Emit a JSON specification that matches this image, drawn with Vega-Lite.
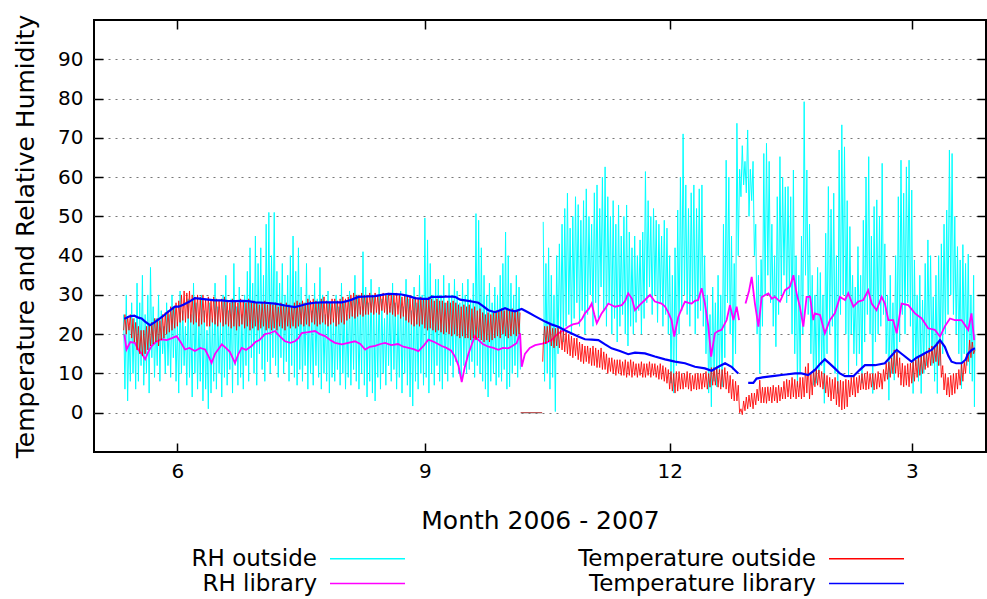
{
  "$schema": "https://vega.github.io/schema/vega-lite/v6.json",
  "width": 892,
  "height": 432,
  "autosize": {"type": "none"},
  "padding": {"left": 94, "top": 20, "right": 1, "bottom": 147},
  "background": "#ffffff",
  "config": {
    "view": {"stroke": "#000000", "strokeWidth": 2},
    "font": "DejaVu Sans",
    "axis": {"domain": false, "tickColor": "#000000", "tickWidth": 1.5, "labelColor": "#000000", "titleColor": "#000000", "titleFontWeight": "normal"}
  },
  "layer": [
    {
      "data": {"values": [
{"d":131,"v":25},{"d":131.5,"v":6},{"d":132,"v":30},{"d":132.5,"v":3},{"d":133,"v":22},{"d":133.5,"v":8},{"d":134,"v":28},{"d":134.5,"v":10},{"d":135,"v":24},{"d":135.5,"v":6},{"d":136,"v":33},{"d":136.5,"v":8},{"d":137,"v":28},{"d":137.5,"v":12},{"d":138,"v":35},{"d":138.5,"v":7},{"d":139,"v":25},{"d":139.5,"v":10},{"d":140,"v":30},{"d":140.5,"v":5},
{"d":141,"v":37},{"d":141.5,"v":14},{"d":142,"v":27},{"d":142.5,"v":9},{"d":143,"v":24},{"d":143.5,"v":12},{"d":144,"v":30},{"d":144.5,"v":8},{"d":145,"v":26},{"d":145.5,"v":15},{"d":146,"v":22},{"d":146.5,"v":10},{"d":147,"v":28},{"d":147.5,"v":12},{"d":148,"v":25},{"d":148.5,"v":9},{"d":149,"v":30},{"d":149.5,"v":14},{"d":150,"v":27},{"d":150.5,"v":8},
{"d":151,"v":23},{"d":151.5,"v":5},{"d":152,"v":31},{"d":152.5,"v":10},{"d":153,"v":26},{"d":153.5,"v":12},{"d":154,"v":22},{"d":154.5,"v":7},{"d":155,"v":29},{"d":155.5,"v":9},{"d":156,"v":25},{"d":156.5,"v":4},{"d":157,"v":33},{"d":157.5,"v":10},{"d":158,"v":28},{"d":158.5,"v":6},{"d":159,"v":24},{"d":159.5,"v":8},{"d":160,"v":30},{"d":160.5,"v":3},
{"d":161,"v":26},{"d":161.5,"v":6},{"d":162,"v":21},{"d":162.5,"v":1},{"d":163,"v":28},{"d":163.5,"v":5},{"d":164,"v":24},{"d":164.5,"v":8},{"d":165,"v":33},{"d":165.5,"v":6},{"d":166,"v":27},{"d":166.5,"v":10},{"d":167,"v":23},{"d":167.5,"v":4},{"d":168,"v":30},{"d":168.5,"v":9},{"d":169,"v":35},{"d":169.5,"v":7},{"d":170,"v":26},{"d":170.5,"v":11},
{"d":171,"v":29},{"d":171.5,"v":5},{"d":172,"v":38},{"d":172.5,"v":12},{"d":173,"v":27},{"d":173.5,"v":7},{"d":174,"v":32},{"d":174.5,"v":9},{"d":175,"v":25},{"d":175.5,"v":6},{"d":176,"v":30},{"d":176.5,"v":12},{"d":177,"v":36},{"d":177.5,"v":8},{"d":178,"v":42},{"d":178.5,"v":14},{"d":179,"v":33},{"d":179.5,"v":10},{"d":180,"v":45},{"d":180.5,"v":7},
{"d":181,"v":38},{"d":181.5,"v":15},{"d":182,"v":42},{"d":182.5,"v":11},{"d":183,"v":35},{"d":183.5,"v":8},{"d":184,"v":48},{"d":184.5,"v":13},{"d":185,"v":51},{"d":185.5,"v":10},{"d":186,"v":40},{"d":186.5,"v":14},{"d":187,"v":51},{"d":187.5,"v":12},{"d":188,"v":36},{"d":188.5,"v":9},{"d":189,"v":33},{"d":189.5,"v":14},{"d":190,"v":38},{"d":190.5,"v":10},
{"d":191,"v":30},{"d":191.5,"v":13},{"d":192,"v":35},{"d":192.5,"v":8},{"d":193,"v":40},{"d":193.5,"v":12},{"d":194,"v":45},{"d":194.5,"v":9},{"d":195,"v":36},{"d":195.5,"v":7},{"d":196,"v":42},{"d":196.5,"v":11},{"d":197,"v":32},{"d":197.5,"v":8},{"d":198,"v":28},{"d":198.5,"v":12},{"d":199,"v":38},{"d":199.5,"v":6},{"d":200,"v":30},{"d":200.5,"v":10},
{"d":201,"v":26},{"d":201.5,"v":7},{"d":202,"v":33},{"d":202.5,"v":12},{"d":203,"v":29},{"d":203.5,"v":9},{"d":204,"v":37},{"d":204.5,"v":6},{"d":205,"v":30},{"d":205.5,"v":10},{"d":206,"v":25},{"d":206.5,"v":8},{"d":207,"v":31},{"d":207.5,"v":5},{"d":208,"v":28},{"d":208.5,"v":9},{"d":209,"v":24},{"d":209.5,"v":8},{"d":210,"v":30},{"d":210.5,"v":11},
{"d":211,"v":27},{"d":211.5,"v":7},{"d":212,"v":33},{"d":212.5,"v":10},{"d":213,"v":28},{"d":213.5,"v":6},{"d":214,"v":25},{"d":214.5,"v":9},{"d":215,"v":31},{"d":215.5,"v":7},{"d":216,"v":29},{"d":216.5,"v":11},{"d":217,"v":35},{"d":217.5,"v":8},{"d":218,"v":30},{"d":218.5,"v":6},{"d":219,"v":27},{"d":219.5,"v":10},{"d":220,"v":41},{"d":220.5,"v":7},
{"d":221,"v":32},{"d":221.5,"v":4},{"d":222,"v":28},{"d":222.5,"v":8},{"d":223,"v":34},{"d":223.5,"v":5},{"d":224,"v":30},{"d":224.5,"v":3},{"d":225,"v":26},{"d":225.5,"v":9},{"d":226,"v":32},{"d":226.5,"v":6},{"d":227,"v":29},{"d":227.5,"v":10},{"d":228,"v":24},{"d":228.5,"v":7},{"d":229,"v":30},{"d":229.5,"v":12},{"d":230,"v":27},{"d":230.5,"v":8},
{"d":231,"v":33},{"d":231.5,"v":11},{"d":232,"v":28},{"d":232.5,"v":6},{"d":233,"v":25},{"d":233.5,"v":9},{"d":234,"v":31},{"d":234.5,"v":5},{"d":235,"v":27},{"d":235.5,"v":10},{"d":236,"v":34},{"d":236.5,"v":7},{"d":237,"v":29},{"d":237.5,"v":4},{"d":238,"v":26},{"d":238.5,"v":1.7},{"d":239,"v":32},{"d":239.5,"v":8},{"d":240,"v":28},{"d":240.5,"v":6},
{"d":241,"v":35},{"d":241.5,"v":10},{"d":242,"v":30},{"d":242.5,"v":7},{"d":243,"v":49.6},{"d":243.5,"v":9},{"d":244,"v":44},{"d":244.5,"v":5},{"d":245,"v":38},{"d":245.5,"v":10},{"d":246,"v":30},{"d":246.5,"v":7},{"d":247,"v":34},{"d":247.5,"v":12},{"d":248,"v":34},{"d":248.5,"v":8},{"d":249,"v":30},{"d":249.5,"v":6},{"d":250,"v":35},{"d":250.5,"v":10},
{"d":251,"v":28},{"d":251.5,"v":8},{"d":252,"v":33},{"d":252.5,"v":12},{"d":253,"v":30},{"d":253.5,"v":9},{"d":254,"v":34},{"d":254.5,"v":13},{"d":255,"v":31},{"d":255.5,"v":10},{"d":256,"v":28},{"d":256.5,"v":9},{"d":257,"v":33},{"d":257.5,"v":12},{"d":258,"v":30},{"d":258.5,"v":10},{"d":259,"v":34},{"d":259.5,"v":11},{"d":260,"v":29},{"d":260.5,"v":13},
{"d":261,"v":33},{"d":261.5,"v":9},{"d":262,"v":50.7},{"d":262.5,"v":12},{"d":263,"v":49},{"d":263.5,"v":10},{"d":264,"v":42},{"d":264.5,"v":8},{"d":265,"v":35},{"d":265.5,"v":6},{"d":266,"v":30},{"d":266.5,"v":4},{"d":267,"v":33},{"d":267.5,"v":8},{"d":268,"v":28},{"d":268.5,"v":10},{"d":269,"v":32},{"d":269.5,"v":7},{"d":270,"v":30},{"d":270.5,"v":9},
{"d":271,"v":35},{"d":271.5,"v":8},{"d":272,"v":38},{"d":272.5,"v":11},{"d":273,"v":46},{"d":273.5,"v":6},{"d":274,"v":40},{"d":274.5,"v":6.6},{"d":275,"v":33},{"d":275.5,"v":10},{"d":276,"v":30},{"d":276.5,"v":12},{"d":277,"v":35},{"d":277.5,"v":9},{"d":278,"v":32},{"d":278.5,"v":11},{"d":278.6,"v":null},{"d":278.7,"v":0},{"d":286.5,"v":0},{"d":286.7,"v":null},
{"d":287,"v":48.6},{"d":287.5,"v":8},{"d":288,"v":38},{"d":288.5,"v":10},{"d":289,"v":42},{"d":289.5,"v":6},{"d":290,"v":35},{"d":290.5,"v":9},
{"d":291,"v":30},{"d":291.5,"v":0.3},{"d":292,"v":40},{"d":292.5,"v":15},{"d":293,"v":43},{"d":293.5,"v":20},{"d":294,"v":48},{"d":294.5,"v":18},{"d":295,"v":52},{"d":295.5,"v":22},{"d":296,"v":55.9},{"d":296.5,"v":25},{"d":297,"v":47},{"d":297.5,"v":20},{"d":298,"v":50},{"d":298.5,"v":24},{"d":299,"v":55},{"d":299.5,"v":28},{"d":300,"v":53},{"d":300.5,"v":22},
{"d":301,"v":49},{"d":301.5,"v":26},{"d":302,"v":54},{"d":302.5,"v":20},{"d":303,"v":57},{"d":303.5,"v":25},{"d":304,"v":50},{"d":304.5,"v":30},{"d":305,"v":48},{"d":305.5,"v":22},{"d":306,"v":56},{"d":306.5,"v":28},{"d":307,"v":58},{"d":307.5,"v":24},{"d":308,"v":52},{"d":308.5,"v":32},{"d":309,"v":60},{"d":309.5,"v":26},{"d":310,"v":62.6},{"d":310.5,"v":22},
{"d":311,"v":55},{"d":311.5,"v":28},{"d":312,"v":50},{"d":312.5,"v":20},{"d":313,"v":54},{"d":313.5,"v":24},{"d":314,"v":48},{"d":314.5,"v":18},{"d":315,"v":52.9},{"d":315.5,"v":22},{"d":316,"v":45},{"d":316.5,"v":25},{"d":317,"v":50},{"d":317.5,"v":20},{"d":318,"v":52.9},{"d":318.5,"v":17},{"d":319,"v":46},{"d":319.5,"v":22},{"d":320,"v":42},{"d":320.5,"v":20},
{"d":321,"v":45},{"d":321.5,"v":23},{"d":322,"v":40},{"d":322.5,"v":26},{"d":323,"v":44},{"d":323.5,"v":20},{"d":324,"v":46},{"d":324.5,"v":24},{"d":325,"v":61.4},{"d":325.5,"v":28},{"d":326,"v":54},{"d":326.5,"v":32},{"d":327,"v":50},{"d":327.5,"v":25},{"d":328,"v":52},{"d":328.5,"v":30},{"d":329,"v":49},{"d":329.5,"v":23},{"d":330,"v":48},{"d":330.5,"v":28},
{"d":331,"v":45},{"d":331.5,"v":22},{"d":332,"v":49},{"d":332.5,"v":25},{"d":333,"v":47},{"d":333.5,"v":20},{"d":334,"v":40},{"d":334.5,"v":7.5},{"d":335,"v":35},{"d":335.5,"v":5},{"d":336,"v":42},{"d":336.5,"v":12},{"d":337,"v":51.6},{"d":337.5,"v":20},{"d":338,"v":60},{"d":338.5,"v":26},{"d":339,"v":71},{"d":339.5,"v":30},{"d":340,"v":58},{"d":340.5,"v":25},
{"d":341,"v":52},{"d":341.5,"v":22},{"d":342,"v":56},{"d":342.5,"v":28},{"d":343,"v":58},{"d":343.5,"v":20},{"d":344,"v":52},{"d":344.5,"v":24},{"d":345,"v":57},{"d":345.5,"v":26},{"d":346,"v":58},{"d":346.5,"v":22},{"d":347,"v":40},{"d":347.5,"v":15},{"d":348,"v":30},{"d":348.5,"v":5},{"d":349,"v":25},{"d":349.5,"v":1.5},{"d":350,"v":32},{"d":350.5,"v":8},
{"d":351,"v":28},{"d":351.5,"v":6.6},{"d":352,"v":35},{"d":352.5,"v":10},{"d":353,"v":30},{"d":353.5,"v":6.6},{"d":354,"v":48},{"d":354.5,"v":14},{"d":355,"v":64.3},{"d":355.5,"v":28},{"d":356,"v":60},{"d":356.5,"v":20},{"d":357,"v":45},{"d":357.5,"v":11},{"d":358,"v":38},{"d":358.5,"v":15},{"d":359,"v":73.7},{"d":359.5,"v":40},{"d":360,"v":62},{"d":360.5,"v":55},
{"d":361,"v":68},{"d":361.5,"v":58},{"d":362,"v":64},{"d":362.5,"v":56},{"d":363,"v":72},{"d":363.5,"v":50},{"d":364,"v":62},{"d":364.5,"v":54},{"d":365,"v":64},{"d":365.5,"v":40},{"d":366,"v":48},{"d":366.5,"v":20},{"d":367,"v":35},{"d":367.5,"v":10},{"d":368,"v":39},{"d":368.5,"v":22},{"d":369,"v":66},{"d":369.5,"v":30},{"d":370,"v":68.6},{"d":370.5,"v":35},
{"d":371,"v":64},{"d":371.5,"v":28},{"d":372,"v":48},{"d":372.5,"v":22},{"d":373,"v":40},{"d":373.5,"v":16.8},{"d":374,"v":55},{"d":374.5,"v":25},{"d":375,"v":65.2},{"d":375.5,"v":30},{"d":376,"v":60},{"d":376.5,"v":35},{"d":377,"v":57.5},{"d":377.5,"v":28},{"d":378,"v":57.6},{"d":378.5,"v":30},{"d":379,"v":55},{"d":379.5,"v":20},{"d":380,"v":61.8},{"d":380.5,"v":15},
{"d":381,"v":40},{"d":381.5,"v":6.6},{"d":382,"v":35},{"d":382.5,"v":10},{"d":383,"v":45},{"d":383.5,"v":20},{"d":384,"v":79.2},{"d":384.5,"v":35},{"d":385,"v":61.8},{"d":385.5,"v":25},{"d":386,"v":48},{"d":386.5,"v":15},{"d":387,"v":35},{"d":387.5,"v":7},{"d":388,"v":30},{"d":388.5,"v":7.5},{"d":389,"v":37},{"d":389.5,"v":10},{"d":390,"v":35.7},{"d":390.5,"v":12},
{"d":391,"v":30},{"d":391.5,"v":2.4},{"d":392,"v":45.7},{"d":392.5,"v":15},{"d":393,"v":57.6},{"d":393.5,"v":20},{"d":394,"v":51.8},{"d":394.5,"v":22},{"d":395,"v":55.9},{"d":395.5,"v":10},{"d":396,"v":40},{"d":396.5,"v":4.9},{"d":397,"v":66.9},{"d":397.5,"v":25},{"d":398,"v":73.3},{"d":398.5,"v":30},{"d":399,"v":67.7},{"d":399.5,"v":20},{"d":400,"v":54},{"d":400.5,"v":9.2},
{"d":401,"v":47.4},{"d":401.5,"v":20},{"d":402,"v":35},{"d":402.5,"v":15},{"d":403,"v":32},{"d":403.5,"v":12},{"d":404,"v":42.3},{"d":404.5,"v":15},{"d":405,"v":35},{"d":405.5,"v":7.5},{"d":406,"v":49},{"d":406.5,"v":18},{"d":407,"v":60},{"d":407.5,"v":25},{"d":408,"v":65.2},{"d":408.5,"v":20},{"d":409,"v":45},{"d":409.5,"v":4.9},{"d":410,"v":52.5},{"d":410.5,"v":18},
{"d":411,"v":54.2},{"d":411.5,"v":20},{"d":412,"v":50},{"d":412.5,"v":22},{"d":413,"v":63.5},{"d":413.5,"v":25},{"d":414,"v":43},{"d":414.5,"v":15},{"d":415,"v":30},{"d":415.5,"v":3.2},{"d":416,"v":35},{"d":416.5,"v":10},{"d":417,"v":28},{"d":417.5,"v":8.3},{"d":418,"v":40},{"d":418.5,"v":12},{"d":419,"v":55},{"d":419.5,"v":18},{"d":420,"v":64.3},{"d":420.5,"v":25},
{"d":421,"v":55.9},{"d":421.5,"v":20},{"d":422,"v":62.6},{"d":422.5,"v":28},{"d":423,"v":64.3},{"d":423.5,"v":22},{"d":424,"v":56.7},{"d":424.5,"v":4.9},{"d":425,"v":38.9},{"d":425.5,"v":12},{"d":426,"v":30},{"d":426.5,"v":8},{"d":427,"v":35},{"d":427.5,"v":4.9},{"d":428,"v":28.7},{"d":428.5,"v":10},{"d":429,"v":38},{"d":429.5,"v":12},{"d":430,"v":44},{"d":430.5,"v":15},
{"d":431,"v":40},{"d":431.5,"v":12},{"d":432,"v":29.5},{"d":432.5,"v":8},{"d":433,"v":35},{"d":433.5,"v":4.9},{"d":434,"v":40},{"d":434.5,"v":12},{"d":435,"v":43},{"d":435.5,"v":15},{"d":436,"v":48},{"d":436.5,"v":20},{"d":437,"v":51.6},{"d":437.5,"v":25},{"d":438,"v":66.9},{"d":438.5,"v":30},{"d":439,"v":66},{"d":439.5,"v":25},{"d":440,"v":50},{"d":440.5,"v":20},
{"d":441,"v":42.3},{"d":441.5,"v":15},{"d":442,"v":38.9},{"d":442.5,"v":6.1},{"d":443,"v":42.8},{"d":443.5,"v":15},{"d":444,"v":38},{"d":444.5,"v":12},{"d":445,"v":40.4},{"d":445.5,"v":10},{"d":446,"v":30},{"d":446.5,"v":8},{"d":447,"v":35},{"d":447.3,"v":1.5},{"d":447.5,"v":20}
      ]},
      "mark": {"type": "line", "strokeWidth": 1, "interpolate": "linear"},
      "encoding": {
        "x": {"field": "d", "type": "quantitative", "scale": {"domain": [120, 451.6], "nice": false, "zero": false},
          "axis": {"values": [151, 243, 334, 424], "labelExpr": "datum.value == 151 ? '6' : datum.value == 243 ? '9' : datum.value == 334 ? '12' : '3'", "title": "Month 2006 - 2007", "grid": false, "tickSize": -9, "labelFontSize": 20, "labelPadding": 18, "titleFontSize": 25, "titlePadding": 27, "orient": "bottom"}},
        "y": {"field": "v", "type": "quantitative", "scale": {"domain": [-10, 100], "nice": false, "zero": false},
          "axis": {"values": [0, 10, 20, 30, 40, 50, 60, 70, 80, 90], "title": "Temperature and Relative Humidity", "grid": true, "gridDash": [2, 5], "gridColor": "#777777", "gridWidth": 1.2, "tickSize": -9, "labelFontSize": 20, "labelPadding": 20, "titleFontSize": 25, "titlePadding": 19, "orient": "left"}},
        "color": {"datum": "RH outside", "type": "nominal",
          "scale": {"domain": ["RH outside", "RH library", "Temperature outside", "Temperature library"], "range": ["#00ffff", "#ff00ff", "#ff0000", "#0000ff"]},
          "legend": {"orient": "none", "legendX": 262, "legendY": 527, "columns": 2, "values": ["RH outside", "RH library", "Temperature outside", "Temperature library"], "symbolType": "M-5,0H5", "symbolSize": 225, "symbolStrokeWidth": 1.5, "labelAlign": "right", "labelOffset": -62, "labelLimit": 400, "labelFontSize": 23, "labelColor": "#000000", "columnPadding": 170, "rowPadding": 1, "title": null}}
      }
    },
    {
      "data": {"values": [
{"d":131.3,"v":19.9},{"d":132.1,"v":16.1},{"d":133.5,"v":18},{"d":135.2,"v":17.8},{"d":136.5,"v":16},{"d":137.8,"v":15},{"d":139,"v":13.6},{"d":140.2,"v":15.5},{"d":141.4,"v":17},{"d":143,"v":18},{"d":145.1,"v":18.7},{"d":147,"v":18.5},{"d":149,"v":19},{"d":150.7,"v":19.5},{"d":152.2,"v":18},{"d":153.8,"v":16.1},{"d":155.5,"v":16.5},{"d":157.5,"v":15.7},{"d":159.5,"v":16.5},{"d":161.3,"v":16.1},{"d":162.5,"v":14.5},{"d":163.7,"v":12.7},{"d":165,"v":15},{"d":167.5,"v":17.4},{"d":169,"v":16.5},{"d":170.5,"v":15.5},{"d":171.5,"v":14},{"d":172.4,"v":12.7},{"d":173.7,"v":15},{"d":174.9,"v":16.5},{"d":176.5,"v":16},{"d":178.6,"v":17},{"d":180,"v":18},{"d":181.5,"v":18.5},{"d":183.6,"v":20},{"d":185.5,"v":20.3},{"d":187.3,"v":20.8},{"d":189,"v":19.5},{"d":191,"v":18.2},{"d":193,"v":17.8},{"d":194.7,"v":18.2},{"d":196,"v":19},{"d":197.2,"v":20.3},{"d":199.5,"v":20.5},{"d":202.2,"v":20.8},{"d":204,"v":20},{"d":205.9,"v":19.5},{"d":207.8,"v":18.5},{"d":209.6,"v":17.8},{"d":212.1,"v":17.4},{"d":214.5,"v":17.8},{"d":217,"v":18.2},{"d":219,"v":17.5},{"d":220.8,"v":16.1},{"d":222.5,"v":16.8},{"d":224.5,"v":17},{"d":226.5,"v":17.5},{"d":228.2,"v":17.8},{"d":230.5,"v":17.2},{"d":233,"v":17.5},{"d":235,"v":16.8},{"d":236.9,"v":16.5},{"d":238.8,"v":16.2},{"d":240.6,"v":15.7},{"d":242.5,"v":17},{"d":244.3,"v":18.6},{"d":246.5,"v":18},{"d":249.3,"v":17},{"d":251,"v":16.5},{"d":252.8,"v":15.8},{"d":254.2,"v":14.3},{"d":255.5,"v":12},{"d":256.7,"v":7.8},{"d":257.8,"v":11.5},{"d":259.2,"v":15},{"d":260.5,"v":17.5},{"d":261.6,"v":19.5},{"d":263,"v":18.5},{"d":264.5,"v":17.5},{"d":266.6,"v":16.8},{"d":268.5,"v":16.5},{"d":270.3,"v":16},{"d":272,"v":16.5},{"d":274,"v":16.4},{"d":275.5,"v":17},{"d":277.1,"v":17.7},{"d":278.4,"v":20.2},{"d":279,"v":11.7},{"d":280.2,"v":15},{"d":282,"v":16.5},{"d":284,"v":17.2},{"d":286.7,"v":17.6},{"d":288.5,"v":18},{"d":290.1,"v":18.5},{"d":291.5,"v":19.5},{"d":292.6,"v":20.2},{"d":294.5,"v":21},{"d":296.3,"v":21.9},{"d":298,"v":22.5},{"d":300.1,"v":22.8},{"d":301.5,"v":24},{"d":302.5,"v":25.3},{"d":304,"v":26.5},{"d":305,"v":27.8},{"d":306,"v":25},{"d":306.9,"v":22.8},{"d":308.7,"v":25.3},{"d":310,"v":26.5},{"d":311.2,"v":27.8},{"d":313.7,"v":27},{"d":316.2,"v":27.4},{"d":317.5,"v":28.5},{"d":318.6,"v":30.4},{"d":320,"v":29},{"d":321.1,"v":26.1},{"d":323,"v":27.5},{"d":324.8,"v":28.7},{"d":326.7,"v":30},{"d":328.5,"v":28.3},{"d":331,"v":27.8},{"d":332.3,"v":27},{"d":333.5,"v":25.5},{"d":334.7,"v":23.6},{"d":335.7,"v":19.4},{"d":337.2,"v":24.4},{"d":338.5,"v":26.5},{"d":339.7,"v":28.3},{"d":341,"v":28},{"d":342.2,"v":27.8},{"d":343.4,"v":28.5},{"d":344.6,"v":28.7},{"d":345.9,"v":31.7},{"d":347.1,"v":27.8},{"d":348.4,"v":21.9},{"d":349.4,"v":14.3},{"d":350.8,"v":20.2},{"d":352,"v":20.8},{"d":353.3,"v":21.1},{"d":355.2,"v":23.6},{"d":356.4,"v":27.4},{"d":357.7,"v":23.6},{"d":358.9,"v":27},{"d":359.8,"v":23.6},{"d":361,"v":null},{"d":362.2,"v":27.8},{"d":363.5,"v":31},{"d":364.5,"v":34.6},{"d":365.7,"v":27.8},{"d":367,"v":21.9},{"d":368.2,"v":29.4},{"d":369.5,"v":30},{"d":370.7,"v":30.4},{"d":372,"v":29},{"d":373.1,"v":29.5},{"d":375,"v":28.3},{"d":376.9,"v":31.2},{"d":378.7,"v":32.1},{"d":380,"v":35},{"d":381.2,"v":30.4},{"d":382.4,"v":27},{"d":383.7,"v":21.9},{"d":384.9,"v":29.5},{"d":386.2,"v":29.5},{"d":387.4,"v":23.6},{"d":388,"v":25.3},{"d":389.9,"v":24.9},{"d":391.7,"v":20.2},{"d":393.6,"v":23.6},{"d":395.4,"v":25.3},{"d":397.3,"v":29.5},{"d":399.2,"v":28.7},{"d":400.4,"v":30.4},{"d":402.3,"v":27},{"d":404.1,"v":28.3},{"d":406,"v":28.7},{"d":407.8,"v":31.2},{"d":409.1,"v":27.8},{"d":410.9,"v":26.1},{"d":412.8,"v":29.5},{"d":414,"v":27.8},{"d":415.3,"v":23.6},{"d":417.1,"v":23.6},{"d":418.4,"v":20.2},{"d":420.2,"v":27.8},{"d":422.7,"v":27.4},{"d":425.2,"v":25.3},{"d":427.7,"v":24},{"d":430.1,"v":21.5},{"d":432.6,"v":21.1},{"d":434.5,"v":19.4},{"d":436.3,"v":22},{"d":438.2,"v":24},{"d":440,"v":23.6},{"d":442.5,"v":23.6},{"d":445,"v":21.1},{"d":446.2,"v":25.3},{"d":447.2,"v":18.5}
      ]},
      "mark": {"type": "line", "strokeWidth": 1.8},
      "encoding": {
        "x": {"field": "d", "type": "quantitative", "axis": null},
        "y": {"field": "v", "type": "quantitative", "axis": null},
        "color": {"datum": "RH library", "type": "nominal"}
      }
    },
    {
      "data": {"values": [
{"d":131,"v":21},{"d":131.5,"v":25},{"d":132,"v":20},{"d":132.5,"v":24.5},{"d":133,"v":21},{"d":133.5,"v":25},{"d":134,"v":19},{"d":134.5,"v":24},{"d":135,"v":18},{"d":135.5,"v":23},{"d":136,"v":16},{"d":136.5,"v":22},{"d":137,"v":15},{"d":137.5,"v":21},{"d":138,"v":14.5},{"d":138.5,"v":21},{"d":139,"v":15},{"d":139.5,"v":22},{"d":140,"v":16},{"d":140.5,"v":22.5},
{"d":141,"v":17},{"d":141.5,"v":23},{"d":142,"v":17.5},{"d":142.5,"v":24},{"d":143,"v":18},{"d":143.5,"v":24},{"d":144,"v":17},{"d":144.5,"v":23.5},{"d":145,"v":18.5},{"d":145.5,"v":25},{"d":146,"v":19},{"d":146.5,"v":25.5},{"d":147,"v":20},{"d":147.5,"v":26},{"d":148,"v":20.5},{"d":148.5,"v":27},{"d":149,"v":21},{"d":149.5,"v":27},{"d":150,"v":21.5},{"d":150.5,"v":28},
{"d":151,"v":22},{"d":151.5,"v":28.5},{"d":152,"v":23},{"d":152.5,"v":30},{"d":153,"v":23.5},{"d":153.5,"v":31},{"d":154,"v":23},{"d":154.5,"v":30.5},{"d":155,"v":24},{"d":155.5,"v":31},{"d":156,"v":23},{"d":156.5,"v":30},{"d":157,"v":22.5},{"d":157.5,"v":29.5},{"d":158,"v":23},{"d":158.5,"v":30},{"d":159,"v":22},{"d":159.5,"v":29.5},{"d":160,"v":22.5},{"d":160.5,"v":30},
{"d":161,"v":23},{"d":161.5,"v":29},{"d":162,"v":22},{"d":162.5,"v":29.5},{"d":163,"v":22},{"d":163.5,"v":28.5},{"d":164,"v":23},{"d":164.5,"v":29.5},{"d":165,"v":22.5},{"d":165.5,"v":29},{"d":166,"v":22},{"d":166.5,"v":28.5},{"d":167,"v":23},{"d":167.5,"v":29},{"d":168,"v":22},{"d":168.5,"v":29.5},{"d":169,"v":22.5},{"d":169.5,"v":28.5},{"d":170,"v":22},{"d":170.5,"v":28},
{"d":171,"v":21.5},{"d":171.5,"v":29},{"d":172,"v":22},{"d":172.5,"v":28.5},{"d":173,"v":21},{"d":173.5,"v":28},{"d":174,"v":22},{"d":174.5,"v":29},{"d":175,"v":22.5},{"d":175.5,"v":28.5},{"d":176,"v":21.5},{"d":176.5,"v":28},{"d":177,"v":22},{"d":177.5,"v":29},{"d":178,"v":21},{"d":178.5,"v":28},{"d":179,"v":21.5},{"d":179.5,"v":28.5},{"d":180,"v":22},{"d":180.5,"v":28},
{"d":181,"v":21},{"d":181.5,"v":27.5},{"d":182,"v":21.5},{"d":182.5,"v":28},{"d":183,"v":22},{"d":183.5,"v":28.5},{"d":184,"v":21},{"d":184.5,"v":27.5},{"d":185,"v":21.5},{"d":185.5,"v":28},{"d":186,"v":21},{"d":186.5,"v":27.5},{"d":187,"v":21.5},{"d":187.5,"v":28},{"d":188,"v":21},{"d":188.5,"v":27},{"d":189,"v":22},{"d":189.5,"v":28},{"d":190,"v":21.5},{"d":190.5,"v":27.5},
{"d":191,"v":21},{"d":191.5,"v":28},{"d":192,"v":22},{"d":192.5,"v":27.5},{"d":193,"v":21.5},{"d":193.5,"v":27},{"d":194,"v":22},{"d":194.5,"v":28},{"d":195,"v":21.5},{"d":195.5,"v":28.5},{"d":196,"v":22},{"d":196.5,"v":28},{"d":197,"v":22.5},{"d":197.5,"v":28.5},{"d":198,"v":22},{"d":198.5,"v":28},{"d":199,"v":22.5},{"d":199.5,"v":29},{"d":200,"v":22},{"d":200.5,"v":28.5},
{"d":201,"v":23},{"d":201.5,"v":29},{"d":202,"v":22.5},{"d":202.5,"v":28.5},{"d":203,"v":22},{"d":203.5,"v":28},{"d":204,"v":22.5},{"d":204.5,"v":29},{"d":205,"v":23},{"d":205.5,"v":29.5},{"d":206,"v":22.5},{"d":206.5,"v":28.5},{"d":207,"v":22},{"d":207.5,"v":28},{"d":208,"v":22.5},{"d":208.5,"v":29},{"d":209,"v":23},{"d":209.5,"v":29},{"d":210,"v":22},{"d":210.5,"v":28.5},
{"d":211,"v":22.5},{"d":211.5,"v":29},{"d":212,"v":23},{"d":212.5,"v":29.5},{"d":213,"v":22.5},{"d":213.5,"v":29},{"d":214,"v":23.5},{"d":214.5,"v":29.5},{"d":215,"v":24},{"d":215.5,"v":30},{"d":216,"v":24.5},{"d":216.5,"v":30.5},{"d":217,"v":24},{"d":217.5,"v":30},{"d":218,"v":24.5},{"d":218.5,"v":30},{"d":219,"v":25},{"d":219.5,"v":30.5},{"d":220,"v":24.5},{"d":220.5,"v":30},
{"d":221,"v":25},{"d":221.5,"v":30},{"d":222,"v":25},{"d":222.5,"v":30.5},{"d":223,"v":25.5},{"d":223.5,"v":30},{"d":224,"v":25},{"d":224.5,"v":30.5},{"d":225,"v":25.5},{"d":225.5,"v":30},{"d":226,"v":25},{"d":226.5,"v":30},{"d":227,"v":26},{"d":227.5,"v":30.5},{"d":228,"v":25.5},{"d":228.5,"v":30},{"d":229,"v":25},{"d":229.5,"v":30.5},{"d":230,"v":25.5},{"d":230.5,"v":30},
{"d":231,"v":25},{"d":231.5,"v":30},{"d":232,"v":24.5},{"d":232.5,"v":30.5},{"d":233,"v":25},{"d":233.5,"v":30},{"d":234,"v":24},{"d":234.5,"v":29.5},{"d":235,"v":24.5},{"d":235.5,"v":30},{"d":236,"v":23.5},{"d":236.5,"v":29.5},{"d":237,"v":23},{"d":237.5,"v":29.5},{"d":238,"v":22.5},{"d":238.5,"v":29},{"d":239,"v":22},{"d":239.5,"v":29.5},{"d":240,"v":22.5},{"d":240.5,"v":29},
{"d":241,"v":22},{"d":241.5,"v":29.5},{"d":242,"v":22.5},{"d":242.5,"v":29},{"d":243,"v":21.5},{"d":243.5,"v":29},{"d":244,"v":21},{"d":244.5,"v":29.5},{"d":245,"v":21.5},{"d":245.5,"v":29},{"d":246,"v":21},{"d":246.5,"v":28.5},{"d":247,"v":20.5},{"d":247.5,"v":29},{"d":248,"v":21},{"d":248.5,"v":28.5},{"d":249,"v":20.5},{"d":249.5,"v":28.5},{"d":250,"v":20},{"d":250.5,"v":28},
{"d":251,"v":20.5},{"d":251.5,"v":28.5},{"d":252,"v":20},{"d":252.5,"v":28},{"d":253,"v":19.5},{"d":253.5,"v":28.5},{"d":254,"v":20},{"d":254.5,"v":28},{"d":255,"v":19.5},{"d":255.5,"v":27.5},{"d":256,"v":19},{"d":256.5,"v":27},{"d":257,"v":19.5},{"d":257.5,"v":27.5},{"d":258,"v":19},{"d":258.5,"v":27},{"d":259,"v":19},{"d":259.5,"v":27.5},{"d":260,"v":18.5},{"d":260.5,"v":26.5},
{"d":261,"v":19},{"d":261.5,"v":27},{"d":262,"v":18.5},{"d":262.5,"v":26},{"d":263,"v":19},{"d":263.5,"v":26.5},{"d":264,"v":18.5},{"d":264.5,"v":25.5},{"d":265,"v":18},{"d":265.5,"v":25},{"d":266,"v":18.5},{"d":266.5,"v":25.5},{"d":267,"v":18},{"d":267.5,"v":25},{"d":268,"v":18.5},{"d":268.5,"v":25.5},{"d":269,"v":19},{"d":269.5,"v":26},{"d":270,"v":19.5},{"d":270.5,"v":26},
{"d":271,"v":19},{"d":271.5,"v":26.5},{"d":272,"v":20},{"d":272.5,"v":26},{"d":273,"v":19.5},{"d":273.5,"v":26.5},{"d":274,"v":19},{"d":274.5,"v":26},{"d":275,"v":19.5},{"d":275.5,"v":26.5},{"d":276,"v":20},{"d":276.5,"v":26},{"d":277,"v":19.5},{"d":277.5,"v":26},{"d":278,"v":20},{"d":278.4,"v":25.5},{"d":278.5,"v":null},{"d":278.6,"v":0},{"d":286.6,"v":0},{"d":286.7,"v":null},
{"d":286.8,"v":13},{"d":287,"v":17},{"d":287.5,"v":22},{"d":288,"v":17.5},{"d":288.5,"v":22},{"d":289,"v":18},{"d":289.5,"v":22.5},{"d":290,"v":17},{"d":290.5,"v":21.5},{"d":291,"v":16.5},{"d":291.5,"v":21.5},{"d":292,"v":17},{"d":292.5,"v":22},{"d":293,"v":16.5},{"d":293.5,"v":21},{"d":294,"v":16},{"d":294.5,"v":21},{"d":295,"v":15.5},{"d":295.5,"v":20.5},{"d":296,"v":15},{"d":296.5,"v":20},
{"d":297,"v":14.5},{"d":297.5,"v":19.5},{"d":298,"v":14},{"d":298.5,"v":19},{"d":299,"v":14.5},{"d":299.5,"v":19},{"d":300,"v":13.5},{"d":300.5,"v":18},{"d":301,"v":13},{"d":301.5,"v":17.5},{"d":302,"v":12.5},{"d":302.5,"v":17},{"d":303,"v":13},{"d":303.5,"v":17},{"d":304,"v":12.5},{"d":304.5,"v":16.5},{"d":305,"v":12},{"d":305.5,"v":17},{"d":306,"v":12},{"d":306.5,"v":16.5},
{"d":307,"v":11.5},{"d":307.5,"v":16},{"d":308,"v":11.5},{"d":308.5,"v":16.5},{"d":309,"v":11},{"d":309.5,"v":15.5},{"d":310,"v":11},{"d":310.5,"v":15},{"d":311,"v":10},{"d":311.5,"v":14},{"d":312,"v":10.5},{"d":312.5,"v":14},{"d":313,"v":10},{"d":313.5,"v":13.5},{"d":314,"v":9.5},{"d":314.5,"v":13.5},{"d":315,"v":10},{"d":315.5,"v":13.5},{"d":316,"v":9.5},{"d":316.5,"v":13},
{"d":317,"v":9.5},{"d":317.5,"v":13.5},{"d":318,"v":9},{"d":318.5,"v":13},{"d":319,"v":9.5},{"d":319.5,"v":13.5},{"d":320,"v":9},{"d":320.5,"v":13},{"d":321,"v":9.5},{"d":321.5,"v":12.5},{"d":322,"v":9},{"d":322.5,"v":12.5},{"d":323,"v":9.5},{"d":323.5,"v":13},{"d":324,"v":9},{"d":324.5,"v":12.5},{"d":325,"v":9},{"d":325.5,"v":12.5},{"d":326,"v":9.5},{"d":326.5,"v":13},
{"d":327,"v":9},{"d":327.5,"v":12.5},{"d":328,"v":9.5},{"d":328.5,"v":12.5},{"d":329,"v":9},{"d":329.5,"v":12},{"d":330,"v":8.5},{"d":330.5,"v":12.5},{"d":331,"v":8.5},{"d":331.5,"v":12},{"d":332,"v":8},{"d":332.5,"v":11.5},{"d":333,"v":7.5},{"d":333.5,"v":11},{"d":334,"v":6},{"d":334.5,"v":10.5},{"d":335,"v":5.5},{"d":335.5,"v":10},{"d":336,"v":5},{"d":336.5,"v":10.5},
{"d":337,"v":5.5},{"d":337.5,"v":10.5},{"d":338,"v":6},{"d":338.5,"v":10},{"d":339,"v":6},{"d":339.5,"v":10},{"d":340,"v":6.5},{"d":340.5,"v":10.5},{"d":341,"v":6},{"d":341.5,"v":10},{"d":342,"v":5.5},{"d":342.5,"v":9.5},{"d":343,"v":6},{"d":343.5,"v":10},{"d":344,"v":5.8},{"d":344.5,"v":10},{"d":345,"v":6},{"d":345.5,"v":10},{"d":346,"v":6},{"d":346.5,"v":10},
{"d":347,"v":6.5},{"d":347.5,"v":10.5},{"d":348,"v":6},{"d":348.5,"v":10},{"d":349,"v":6.5},{"d":349.5,"v":11.5},{"d":350,"v":7},{"d":350.5,"v":11.5},{"d":351,"v":7},{"d":351.5,"v":11.7},{"d":352,"v":6.5},{"d":352.5,"v":11},{"d":353,"v":6},{"d":353.5,"v":11},{"d":354,"v":6.5},{"d":354.5,"v":11.5},{"d":355,"v":6},{"d":355.5,"v":10.5},{"d":356,"v":5},{"d":356.5,"v":9.5},
{"d":357,"v":3.5},{"d":357.5,"v":8.5},{"d":358,"v":3},{"d":358.5,"v":8},{"d":359,"v":3},{"d":359.5,"v":7},{"d":360,"v":0},{"d":360.5,"v":1},{"d":361,"v":-0.5},{"d":361.5,"v":3},{"d":362,"v":0.5},{"d":362.5,"v":4},{"d":363,"v":1},{"d":363.5,"v":4.5},{"d":364,"v":1.5},{"d":364.5,"v":5},{"d":365,"v":1},{"d":365.5,"v":5},{"d":366,"v":2},{"d":366.5,"v":6},
{"d":367,"v":3},{"d":367.5,"v":8.3},{"d":368,"v":2.5},{"d":368.5,"v":6.5},{"d":369,"v":2.5},{"d":369.5,"v":6.5},{"d":370,"v":2.4},{"d":370.5,"v":6.6},{"d":371,"v":3},{"d":371.5,"v":6.5},{"d":372,"v":2.5},{"d":372.5,"v":7},{"d":373,"v":3},{"d":373.5,"v":6.5},{"d":374,"v":2.5},{"d":374.5,"v":7},{"d":375,"v":3},{"d":375.5,"v":6.5},{"d":376,"v":3.5},{"d":376.5,"v":8},
{"d":377,"v":3.5},{"d":377.5,"v":8.5},{"d":378,"v":4},{"d":378.5,"v":8.3},{"d":379,"v":3.5},{"d":379.5,"v":9},{"d":380,"v":4},{"d":380.5,"v":8.5},{"d":381,"v":3.5},{"d":381.5,"v":8},{"d":382,"v":4},{"d":382.5,"v":9},{"d":383,"v":3.5},{"d":383.5,"v":9},{"d":384,"v":4},{"d":384.5,"v":11.7},{"d":385,"v":5},{"d":385.5,"v":12.6},{"d":386,"v":3.5},{"d":386.5,"v":10},
{"d":387,"v":4.5},{"d":387.5,"v":11},{"d":388,"v":6.6},{"d":388.5,"v":11},{"d":389,"v":7},{"d":389.5,"v":10.9},{"d":390,"v":6.5},{"d":390.5,"v":10.5},{"d":391,"v":6},{"d":391.5,"v":10},{"d":392,"v":5},{"d":392.5,"v":9.5},{"d":393,"v":4},{"d":393.5,"v":9},{"d":394,"v":3},{"d":394.5,"v":8.5},{"d":395,"v":3.5},{"d":395.5,"v":9},{"d":396,"v":2},{"d":396.5,"v":8},
{"d":397,"v":1.5},{"d":397.5,"v":8.3},{"d":398,"v":0.7},{"d":398.5,"v":8},{"d":399,"v":1},{"d":399.5,"v":8.5},{"d":400,"v":1.5},{"d":400.5,"v":8.3},{"d":401,"v":4},{"d":401.5,"v":9},{"d":402,"v":4.5},{"d":402.5,"v":9.5},{"d":403,"v":4},{"d":403.5,"v":9},{"d":404,"v":5},{"d":404.5,"v":9.5},{"d":405,"v":5.8},{"d":405.5,"v":10},{"d":406,"v":6},{"d":406.5,"v":10},
{"d":407,"v":5.8},{"d":407.5,"v":10.5},{"d":408,"v":6},{"d":408.5,"v":10},{"d":409,"v":6.5},{"d":409.5,"v":10},{"d":410,"v":5.8},{"d":410.5,"v":10},{"d":411,"v":6},{"d":411.5,"v":10.5},{"d":412,"v":6.5},{"d":412.5,"v":10},{"d":413,"v":6},{"d":413.5,"v":11},{"d":414,"v":8},{"d":414.5,"v":12.6},{"d":415,"v":8.5},{"d":415.5,"v":13},{"d":416,"v":9},{"d":416.5,"v":14},
{"d":417,"v":10},{"d":417.5,"v":16},{"d":418,"v":10},{"d":418.5,"v":15.5},{"d":419,"v":9},{"d":419.5,"v":14},{"d":420,"v":7},{"d":420.5,"v":12.6},{"d":421,"v":6.6},{"d":421.5,"v":12},{"d":422,"v":7},{"d":422.5,"v":12.5},{"d":423,"v":6.6},{"d":423.5,"v":12.6},{"d":424,"v":7.5},{"d":424.5,"v":13},{"d":425,"v":8},{"d":425.5,"v":13.5},{"d":426,"v":9},{"d":426.5,"v":14.3},
{"d":427,"v":9.5},{"d":427.5,"v":14.5},{"d":428,"v":10},{"d":428.5,"v":15},{"d":429,"v":11},{"d":429.5,"v":15.5},{"d":430,"v":11.5},{"d":430.5,"v":16.5},{"d":431,"v":12},{"d":431.5,"v":17},{"d":432,"v":12.6},{"d":432.5,"v":16.8},{"d":433,"v":13},{"d":433.5,"v":18},{"d":434,"v":12},{"d":434.5,"v":18.5},{"d":435,"v":9},{"d":435.5,"v":12},{"d":436,"v":5.8},{"d":436.5,"v":10},
{"d":437,"v":4.5},{"d":437.5,"v":9},{"d":438,"v":4},{"d":438.5,"v":9.5},{"d":439,"v":4.5},{"d":439.5,"v":10},{"d":440,"v":4.9},{"d":440.5,"v":10},{"d":441,"v":6},{"d":441.5,"v":11},{"d":442,"v":7},{"d":442.5,"v":12.6},{"d":443,"v":8},{"d":443.5,"v":13},{"d":444,"v":10},{"d":444.5,"v":15},{"d":445,"v":13},{"d":445.5,"v":18.5},{"d":446,"v":14},{"d":446.5,"v":18},{"d":447,"v":15},{"d":447.5,"v":16}
      ]},
      "mark": {"type": "line", "strokeWidth": 0.85},
      "encoding": {
        "x": {"field": "d", "type": "quantitative", "axis": null},
        "y": {"field": "v", "type": "quantitative", "axis": null},
        "color": {"datum": "Temperature outside", "type": "nominal"}
      }
    },
    {
      "data": {"values": [
{"d":131.3,"v":23.9},{"d":133,"v":24.5},{"d":135,"v":24.7},{"d":136.5,"v":24.2},{"d":137.7,"v":24},{"d":139,"v":23.2},{"d":140.8,"v":22.3},{"d":142.5,"v":23},{"d":143.9,"v":23.7},{"d":145.5,"v":24.5},{"d":147,"v":25.4},{"d":148.5,"v":26.2},{"d":150.1,"v":27},{"d":151.5,"v":27},{"d":153.2,"v":27.5},{"d":155.5,"v":28.3},{"d":157.5,"v":29.2},{"d":160,"v":29},{"d":162.5,"v":28.8},{"d":165,"v":28.6},{"d":167.5,"v":28.6},{"d":170,"v":28.4},{"d":172.4,"v":28.4},{"d":175,"v":28.5},{"d":177.4,"v":28.4},{"d":180,"v":28.1},{"d":183.5,"v":28},{"d":187.3,"v":27.8},{"d":191,"v":27.3},{"d":194.7,"v":26.9},{"d":197,"v":27.3},{"d":199.7,"v":27.8},{"d":202,"v":28},{"d":204.7,"v":28.1},{"d":208,"v":28.1},{"d":212.1,"v":28.1},{"d":214,"v":28.4},{"d":215.8,"v":28.8},{"d":218.3,"v":29.5},{"d":221.5,"v":29.6},{"d":224.5,"v":29.7},{"d":227,"v":30},{"d":229.4,"v":30.3},{"d":232,"v":30.2},{"d":234.4,"v":30.1},{"d":237,"v":29.7},{"d":239.3,"v":29.2},{"d":242,"v":29},{"d":244.3,"v":29},{"d":245.5,"v":29.5},{"d":249.3,"v":29.5},{"d":252,"v":29.6},{"d":254.2,"v":29.5},{"d":256.1,"v":28.8},{"d":259.2,"v":28.5},{"d":262.9,"v":28},{"d":264.5,"v":27.2},{"d":266.6,"v":26.1},{"d":269.1,"v":25.6},{"d":271,"v":26.1},{"d":272.8,"v":26.6},{"d":274.7,"v":26.1},{"d":276.5,"v":25.8},{"d":279,"v":26.4},{"d":281.5,"v":25.5},{"d":283.9,"v":24.6},{"d":285.8,"v":23.9},{"d":287.7,"v":23.2},{"d":290,"v":22.5},{"d":292.6,"v":21.9},{"d":295,"v":21},{"d":297.6,"v":20.2},{"d":300,"v":19.4},{"d":302.5,"v":18.7},{"d":305,"v":18.6},{"d":307.5,"v":18.5},{"d":310,"v":17.4},{"d":312.4,"v":16.4},{"d":315.5,"v":15.7},{"d":318.6,"v":14.9},{"d":321.1,"v":15.3},{"d":324.8,"v":15.1},{"d":328.5,"v":14.3},{"d":332.3,"v":13.6},{"d":336,"v":13},{"d":339.7,"v":12.6},{"d":343.4,"v":11.7},{"d":347.1,"v":11.3},{"d":349.6,"v":10.7},{"d":352.1,"v":11.7},{"d":354.6,"v":12.6},{"d":357,"v":11.7},{"d":359.5,"v":10},{"d":361,"v":null},{"d":363.2,"v":7.6},{"d":365.1,"v":7.6},{"d":366.3,"v":8.7},{"d":368.5,"v":9},{"d":370.7,"v":9.2},{"d":373,"v":9.4},{"d":375.6,"v":9.6},{"d":378,"v":9.8},{"d":380.6,"v":10},{"d":383,"v":10},{"d":385.5,"v":9.6},{"d":388,"v":10.9},{"d":390,"v":12.5},{"d":391.7,"v":13.6},{"d":393.5,"v":12.5},{"d":395.4,"v":11.3},{"d":397.3,"v":10},{"d":399.2,"v":9.3},{"d":402.3,"v":9.3},{"d":404.5,"v":10.8},{"d":406.6,"v":12.1},{"d":410.3,"v":12.1},{"d":414,"v":12.6},{"d":416.2,"v":14.3},{"d":418.4,"v":16},{"d":420.8,"v":14.7},{"d":423.9,"v":13},{"d":425.8,"v":14},{"d":427.7,"v":14.7},{"d":429.5,"v":15.4},{"d":431.4,"v":16},{"d":433,"v":17.2},{"d":434.5,"v":18.5},{"d":436.3,"v":16.8},{"d":437.6,"v":14.5},{"d":438.8,"v":13},{"d":440.5,"v":12.6},{"d":442.5,"v":12.6},{"d":444,"v":13.5},{"d":445,"v":15.1},{"d":446.3,"v":16},{"d":447.5,"v":16.4}
      ]},
      "mark": {"type": "line", "strokeWidth": 2.2},
      "encoding": {
        "x": {"field": "d", "type": "quantitative",
          "axis": {"orient": "top", "values": [151, 243, 334, 424], "labels": false, "title": null, "grid": false, "tickSize": -9}},
        "y": {"field": "v", "type": "quantitative",
          "axis": {"orient": "right", "values": [0, 10, 20, 30, 40, 50, 60, 70, 80, 90], "labels": false, "title": null, "grid": false, "tickSize": -9}},
        "color": {"datum": "Temperature library", "type": "nominal"}
      }
    }
  ],
  "resolve": {"axis": {"x": "independent", "y": "independent"}}
}
